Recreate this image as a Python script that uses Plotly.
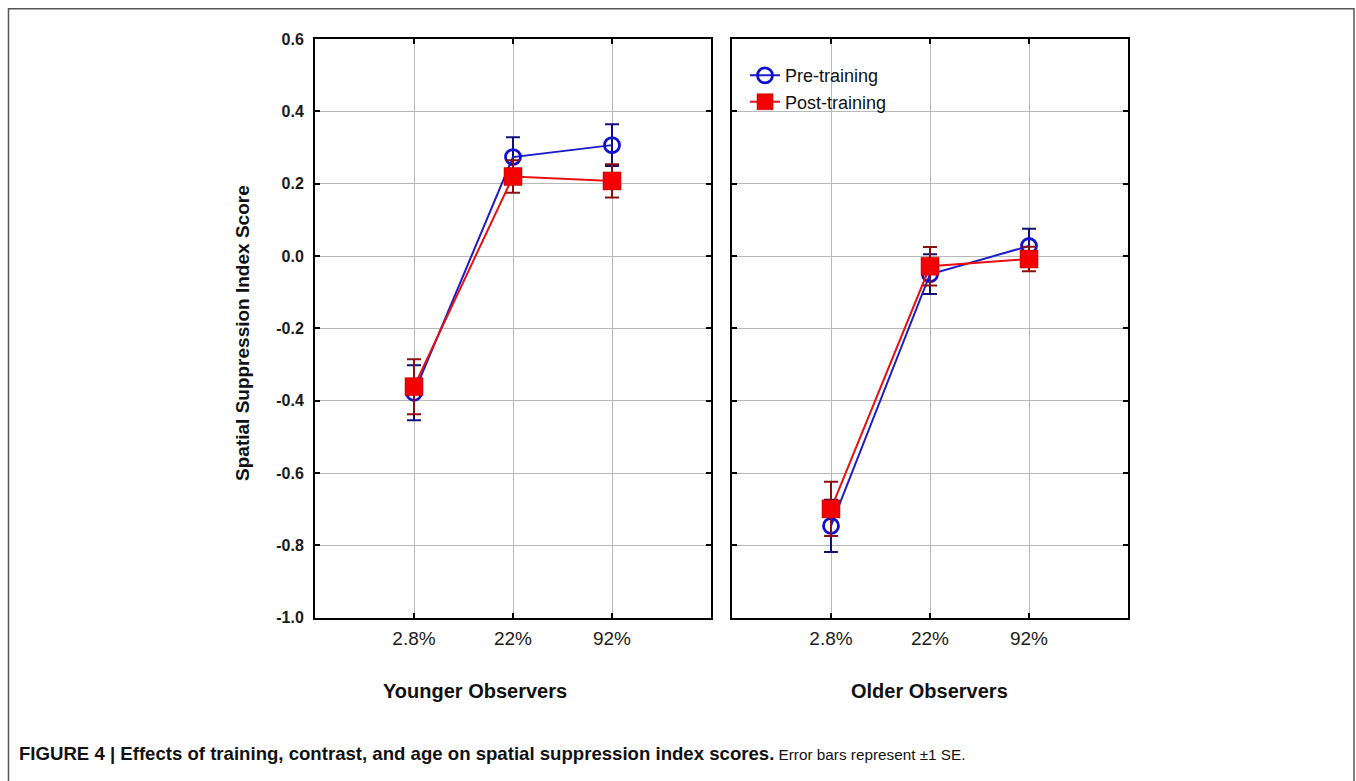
import plotly.graph_objects as go

# ---------------- data ----------------
categories = ["2.8%", "22%", "92%"]

young_pre = [-0.378, 0.274, 0.307]
young_pre_se = [0.076, 0.055, 0.058]
young_post = [-0.361, 0.220, 0.208]
young_post_se = [0.076, 0.045, 0.046]

old_pre = [-0.746, -0.050, 0.028]
old_pre_se = [0.072, 0.055, 0.048]
old_post = [-0.699, -0.028, -0.008]
old_post_se = [0.075, 0.053, 0.034]

y_ticks = [0.6, 0.4, 0.2, 0.0, -0.2, -0.4, -0.6, -0.8, -1.0]
y_tick_text = ["0.6", "0.4", "0.2", "0.0", "-0.2", "-0.4", "-0.6", "-0.8", "-1.0"]

# ---------------- layout helpers (target pixels -> paper) ----------------
W, H = 1356, 781
V_OFF, V_SCALE = 6.8, 0.979  # vertical calibration of the rendered picture


def px(X):
    return X / W


def py(T):
    Y = (T - V_OFF) / V_SCALE
    return 1 - Y / H


FONT = "Liberation Sans, Arial, sans-serif"
BLUE_LINE = "#1c1cc8"
BLUE_ERR = "#10107a"
RED_LINE = "#e81010"
RED_ERR = "#8a1010"
RED_FILL = "#f40000"

fig = go.Figure()


def add_pair(xa, ya, pre, pre_se, post, post_se, show_legend):
    fig.add_trace(go.Scatter(
        x=categories, y=pre, name="Pre-training", mode="lines+markers",
        xaxis=xa, yaxis=ya, showlegend=show_legend, legendgroup="pre",
        line=dict(color=BLUE_LINE, width=2),
        marker=dict(symbol="circle-open", size=15, color="#1010d0",
                    line=dict(width=2.8, color="#1010d0")),
        error_y=dict(type="data", array=pre_se, visible=True,
                     color=BLUE_ERR, thickness=2, width=7),
    ))
    fig.add_trace(go.Scatter(
        x=categories, y=post, name="Post-training", mode="lines+markers",
        xaxis=xa, yaxis=ya, showlegend=show_legend, legendgroup="post",
        line=dict(color=RED_LINE, width=2),
        marker=dict(symbol="square", size=18, color=RED_FILL,
                    line=dict(width=0.5, color="#b00000")),
        error_y=dict(type="data", array=post_se, visible=True,
                     color=RED_ERR, thickness=2, width=7),
    ))


add_pair("x", "y", young_pre, young_pre_se, young_post, young_post_se, False)
add_pair("x2", "y2", old_pre, old_pre_se, old_post, old_post_se, True)

xaxis_common = dict(
    type="category", range=[-1, 3], showgrid=True, gridcolor="#b8b8b8", gridwidth=1,
    ticks="inside", ticklen=5, tickwidth=1.5, tickcolor="black",
    showline=True, linecolor="black", linewidth=2, mirror="allticks",
    tickfont=dict(family=FONT, size=19, color="#1a1a1a"),
    ticklabelstandoff=2, zeroline=False, fixedrange=True,
)
yaxis_common = dict(
    range=[-1.0, 0.6], tickvals=y_ticks, ticktext=y_tick_text,
    showgrid=True, gridcolor="#b8b8b8", gridwidth=1,
    ticks="inside", ticklen=5, tickwidth=1.5, tickcolor="black",
    showline=True, linecolor="black", linewidth=2, mirror="allticks",
    zeroline=False, fixedrange=True,
    tickfont=dict(family=FONT, size=16, color="#1a1a1a", weight="bold"),
)

y_dom = [py(617), py(38)]

fig.update_layout(
    width=W, height=H,
    margin=dict(l=0, r=0, t=0, b=0),
    paper_bgcolor="white", plot_bgcolor="white",
    xaxis=dict(domain=[px(315), px(711)], anchor="y", **xaxis_common),
    yaxis=dict(domain=y_dom, anchor="x", showticklabels=True,
               ticklabelstandoff=6, **yaxis_common),
    xaxis2=dict(domain=[px(732), px(1128)], anchor="y2", **xaxis_common),
    yaxis2=dict(domain=y_dom, anchor="x2", showticklabels=False, **yaxis_common),
    legend=dict(
        x=px(745), y=py(56), xanchor="left", yanchor="top",
        bgcolor="rgba(0,0,0,0)", font=dict(family=FONT, size=18, color="#111"),
        itemwidth=30, tracegroupgap=0,
    ),
    showlegend=True,
)

annotations = [
    dict(text="Spatial Suppression Index Score", x=px(243), y=py(332),
         xref="paper", yref="paper", textangle=-90, showarrow=False,
         xanchor="center", yanchor="middle",
         font=dict(family=FONT, size=19, color="#111", weight="bold")),
    dict(text="Younger Observers", x=px(475), y=py(690), xref="paper", yref="paper",
         showarrow=False, xanchor="center", yanchor="middle",
         font=dict(family=FONT, size=20, color="#111", weight="bold")),
    dict(text="Older Observers", x=px(930), y=py(690), xref="paper", yref="paper",
         showarrow=False, xanchor="center", yanchor="middle",
         font=dict(family=FONT, size=20, color="#111", weight="bold")),
    dict(text=("<b>FIGURE 4 | Effects of training, contrast, and age on spatial "
               "suppression index scores.</b>"
               "<span style='font-size:15.3px'> Error bars represent \u00b11 SE.</span>"),
         x=px(17), y=py(753), xref="paper", yref="paper", xanchor="left",
         yanchor="middle",
         showarrow=False, font=dict(family=FONT, size=18.6, color="#111")),
]
fig.update_layout(annotations=annotations)

fig.add_shape(type="rect", xref="paper", yref="paper",
              x0=px(8.5), x1=px(1354), y0=py(7.5), y1=py(830),
              line=dict(color="#555555", width=1.5), fillcolor="rgba(0,0,0,0)")

fig.write_html(
    "out.html",
    config={"displayModeBar": False},
    post_script=("document.body.style.margin='0';"
                 "document.body.style.overflow='hidden';"
                 "document.documentElement.style.overflow='hidden';"),
)
